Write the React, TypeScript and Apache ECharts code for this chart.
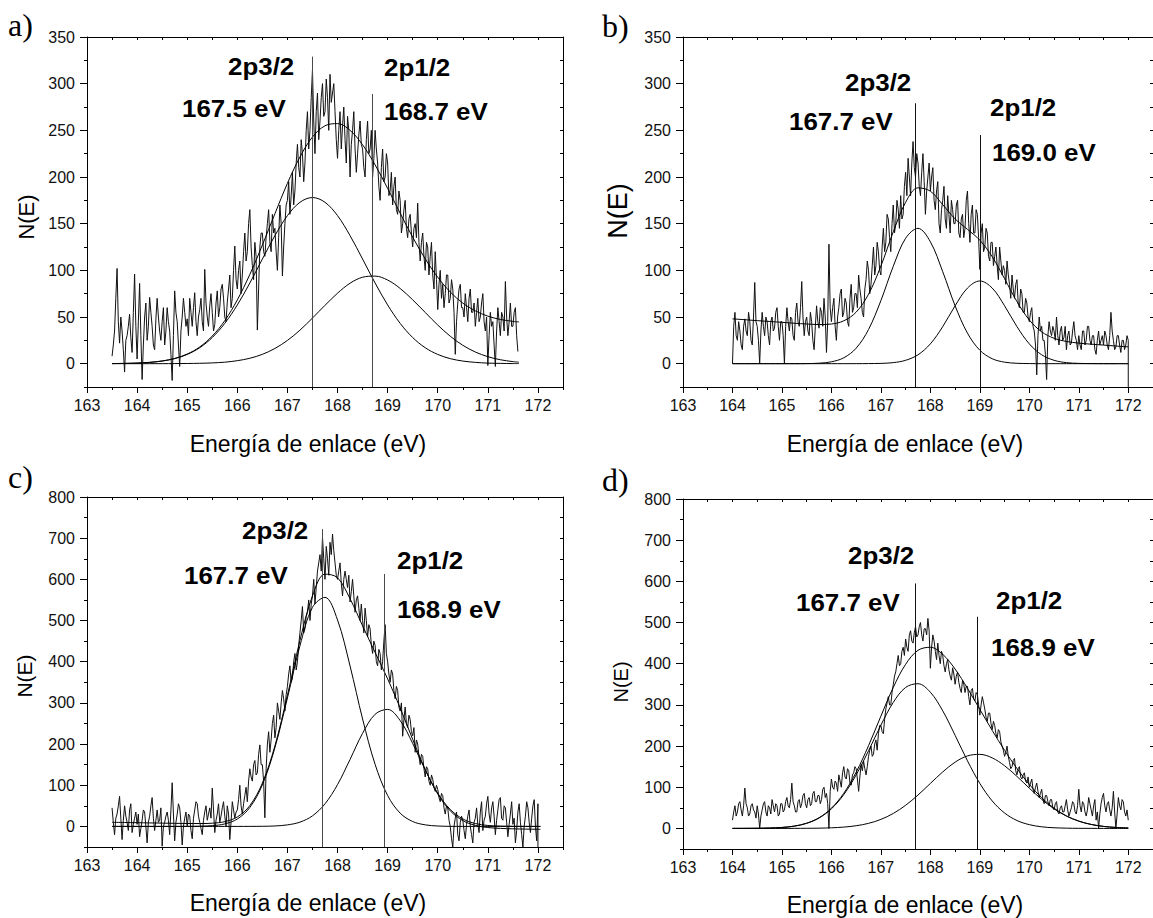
import React, { useEffect, useRef } from 'react';
import * as echarts from 'echarts';

// ---------- tick values ----------
const X_MAJOR = [163, 164, 165, 166, 167, 168, 169, 170, 171, 172];
const X_MINOR = [163.5, 164.5, 165.5, 166.5, 167.5, 168.5, 169.5, 170.5, 171.5, 172.5];
const Y_MAJOR_AB = [0, 50, 100, 150, 200, 250, 300, 350];
const Y_MINOR_AB = [-25, 25, 75, 125, 175, 225, 275, 325];
const Y_MAJOR_CD = [0, 100, 200, 300, 400, 500, 600, 700, 800];
const Y_MINOR_CD = [-50, 50, 150, 250, 350, 450, 550, 650, 750];

const DATA_STEP = 0.025;
const FIT_STEP = 0.25;

// ---------- panel a ----------
const A_DATA_START = 163.5;
const A_DATA = [
  8, 20, 35, 70, 102, 45, 22, 50, 35, 15, -9, 25, 30, 40, 53, 28, 12, 55, 96, 40,
  5, 45, 86, 30, -17, 20, 50, 65, 25, 40, 71, 55, 40, 20, 15, 48, 70, 50, 35, 25,
  45, 60, 20, 35, 60, 45, 35, 10, -18, 30, 78, 55, 45, 20, -3, 35, 50, 70, 55, 40,
  48, 30, 70, 55, 40, 60, 76, 45, 30, 50, 58, 70, 45, 35, 101, 65, 50, 40, 62, 75,
  55, 35, 42, 65, 78, 50, 60, 80, 85, 70, 50, 45, 66, 80, 95, 60, 70, 100, 126, 90,
  80, 100, 110, 75, 95, 120, 140, 110, 120, 150, 165, 125, 105, 90, 130, 115, 36, 80, 125, 140,
  140, 120, 115, 135, 150, 165, 130, 120, 160, 140, 145, 120, 100, 135, 170, 150, 94, 125, 150, 170,
  175, 195, 160, 180, 205, 170, 185, 215, 235, 210, 200, 240, 225, 195, 215, 250, 270, 230, 250, 285,
  315, 260, 225, 270, 290, 240, 260, 285, 300, 265, 270, 305, 285, 250, 310, 280, 290, 300, 270, 240,
  220, 250, 270, 230, 255, 275, 240, 215, 265, 250, 200, 235, 250, 270, 230, 205, 225, 245, 260, 235,
  230, 210, 200, 240, 260, 225, 230, 250, 200, 220, 250, 230, 215, 190, 175, 210, 230, 195, 200, 225,
  215, 180, 185, 205, 170, 190, 200, 165, 160, 185, 175, 140, 150, 165, 175, 145, 135, 155, 160, 140,
  125, 145, 150, 135, 172, 130, 110, 130, 140, 115, 100, 130, 125, 95, 115, 130, 95, 80, 120, 90,
  58, 85, 100, 70, 85, 60, 75, 95, 95, 65, 70, 90, 80, 55, 10, 45, 65, 80, 85, 60,
  60, 50, 75, 60, 45, 70, 80, 55, 55, 65, 40, 55, 70, 45, 50, 65, 75, 45, 35, 50,
  -2, 30, 55, 40, 45, 20, -3, 35, 60, 45, 30, 55, 50, 35, 88, 50, 30, 45, 65, 40,
  40, 55, 60, 30, 13,
];
const A_FIT_START = 163.5;
const A_FIT_LAST_X = 171.62;
const A_ENV = [0.1, 0.3, 0.6, 1.4, 2.9, 5.6, 10.3, 17.9, 29.6, 46.1, 68.3, 95.6, 127.1, 160.6, 193.2, 221.4, 242.9, 254.9, 257.2, 250.0, 234.5, 213.0, 187.8, 161.2, 135.5, 112.4, 92.6, 76.8, 64.9, 56.6, 50.9, 47.4, 45.3, 44.7];
const A_C1 = [0.1, 0.3, 0.6, 1.4, 2.8, 5.4, 9.9, 17.1, 28.0, 43.2, 62.9, 86.4, 112.1, 137.2, 158.6, 172.9, 178.0, 172.9, 158.6, 137.2, 112.1, 86.4, 62.9, 43.2, 28.0, 17.1, 9.9, 5.4, 2.8, 1.4, 0.6, 0.3, 0.1, 0.1];
const A_C2 = [0, 0, 0, 0, 0, 0.1, 0.2, 0.4, 0.8, 1.6, 3.2, 5.8, 10.0, 16.3, 24.9, 35.9, 48.9, 62.5, 75.5, 86.2, 92.6, 93.8, 89.6, 80.6, 68.4, 54.9, 41.4, 29.4, 19.7, 12.5, 7.5, 4.2, 2.2, 1.6];
const A_PEAKS = [167.5, 168.7];
const A_PEAK_TOPS = [329, 289];

// ---------- panel b ----------
const B_DATA_START = 164.0;
const B_DATA = [
  0, 40, 55, 30, 25, 45, 35, 20, 15, 40, 48, 35, 30, 55, 45, 25, 20, 50, 87, 45,
  40, 25, 0, 35, 55, 40, 30, 50, 45, 30, 20, 45, 50, 35, 38, 55, 60, 40, 25, 45,
  45, 30, 0, 40, 60, 45, 35, 50, 48, 30, 25, 55, 65, 45, 40, 60, 88, 50, 30, 45,
  50, 35, 30, 55, 45, 25, 15, 40, 62, 45, 38, 60, 55, 40, 70, 50, 12, 45, 128, 60,
  45, 60, 70, 40, 25, 50, 60, 75, 80, 50, 55, 70, 65, 45, 40, 70, 85, 55, 60, 75,
  75, 60, 95, 80, 70, 55, 50, 80, 90, 110, 100, 75, 85, 105, 125, 95, 105, 130, 120, 100,
  95, 125, 145, 120, 130, 160, 155, 135, 120, 150, 170, 140, 150, 175, 165, 145, 180, 155, 160, 190,
  205, 180, 220, 200, 180, 215, 238, 210, 200, 225, 215, 190, 180, 205, 225, 195, 160, 185, 200, 215,
  185, 200, 210, 175, 165, 185, 195, 150, 140, 165, 175, 190, 155, 145, 180, 160, 140, 175, 165, 150,
  150, 170, 175, 140, 135, 155, 160, 135, 145, 175, 185, 150, 130, 160, 170, 140, 140, 165, 160, 135,
  101, 140, 150, 120, 125, 145, 140, 115, 110, 130, 130, 105, 115, 125, 105, 90, 125, 110, 95, 105,
  100, 85, 110, 95, 85, 70, 95, 80, 70, 85, 90, 65, 60, 80, 75, 55, 55, 70, 65, 50,
  45, 55, 60, 40, 35, 20, -12, 30, 50, 35, 40, 25, 25, 10, -17, 30, 45, 35, 30, 40,
  35, 25, 50, 30, 20, 35, 40, 25, 28, 40, 15, 30, 35, 20, 22, 35, 45, 30, 25, 15,
  30, 20, 15, 35, 35, 20, 25, 40, 40, 25, 20, 30, 30, 15, 10, 25, 35, 20, 25, 30,
  20, 35, 30, 20, 15, 30, 55, 35, 25, 15, 18, 30, 30, 20, 12, 25, 25, 15, 20, 30,
  25,
];
const B_DATA_TAIL = [[172.0, -40]];
const B_FIT_START = 164.0;
const B_ENV = [48.0, 47.1, 46.1, 45.2, 44.3, 43.3, 42.5, 41.9, 42.5, 45.9, 55.2, 74.4, 104.6, 141.2, 172.9, 188.4, 184.8, 170.3, 155.1, 143.9, 132.3, 114.6, 91.0, 66.5, 46.8, 34.1, 27.2, 23.8, 22.0, 20.9, 19.9, 18.9, 18.0];
const B_C1 = [0, 0, 0, 0, 0, 0, 0.1, 0.5, 2.0, 6.3, 16.6, 36.6, 67.6, 104.3, 134.4, 145.0, 130.6, 98.5, 62.0, 32.7, 14.4, 5.3, 1.6, 0.4, 0.1, 0, 0, 0, 0, 0, 0, 0, 0];
const B_C2 = [0, 0, 0, 0, 0, 0, 0, 0, 0, 0, 0, 0.1, 0.3, 1.1, 3.6, 9.5, 21.2, 39.7, 62.0, 81.0, 88.6, 81.0, 62.0, 39.7, 21.2, 9.5, 3.6, 1.1, 0.3, 0.1, 0, 0, 0];
const B_PEAKS = [167.7, 169.0];
const B_PEAK_TOPS = [279, 245];

// ---------- panel c ----------
const C_DATA_START = 163.5;
const C_DATA = [
  45, 10, -20, 20, 30, 50, 73, 20, -32, 15, 50, 25, 10, -10, 40, 55, -15, 5, 20, 35,
  5, 30, -25, -5, 15, 40, 35, 0, -40, 10, 25, 50, 70, 20, -10, 15, 40, 10, 15, 45,
  -48, 0, 10, 25, 35, 15, -20, 40, 106, 30, -35, 10, 30, 55, 45, 10, -45, 0, 20, 35,
  0, 30, 25, -10, -30, 20, 40, 60, 55, 25, 10, -5, -20, 15, 35, 50, 15, 30, 45, 20,
  93, 40, -15, 15, 30, 55, 10, 25, 45, 60, 25, 0, 50, 30, -32, 10, 60, 40, 20, 35,
  40, 65, 100, 50, 30, 55, 75, 95, 60, 110, 140, 120, 110, 150, 160, 125, 130, 175, 198, 150,
  150, 110, 21, 140, 200, 230, 180, 210, 250, 270, 215, 240, 300, 280, 260, 300, 330, 310, 280, 320,
  340, 370, 390, 350, 360, 400, 420, 380, 400, 440, 470, 500, 534, 470, 480, 510, 520, 550, 500, 540,
  560, 600, 540, 580, 620, 640, 660, 620, 703, 650, 600, 680, 650, 610, 690, 660, 710, 670, 640, 610,
  600, 620, 640, 590, 560, 600, 620, 600, 580, 610, 545, 570, 600, 560, 520, 550, 560, 530, 500, 540,
  500, 470, 530, 500, 460, 490, 480, 440, 420, 450, 440, 400, 390, 430, 420, 380, 400, 450, 490, 420,
  400, 370, 350, 380, 370, 330, 310, 340, 330, 290, 280, 300, 219, 260, 290, 250, 240, 270, 260, 230,
  220, 240, 180, 210, 200, 170, 150, 175, 170, 140, 120, 145, 140, 110, 100, 125, 115, 95, 85, 100,
  90, 70, 60, 80, 75, 45, 30, 50, 45, 15, 0, -30, -50, 0, 20, 35, -20, -35, 10, 25,
  15, -10, -30, 5, 25, 40, 0, -20, -40, 10, 20, 45, 5, -15, 35, 60, -10, 15, 25, 55,
  73, 30, 10, 45, 60, 25, -20, 15, 40, 65, 70, 20, 15, 50, 45, 10, -25, 5, 30, 60,
  5, 20, -40, -10, 35, 55, 10, -20, -50, 0, 25, 60, 45, 10, -15, 20, 50, 65, 0, -35,
  55,
];
const C_DATA_TAIL = [[172.0, -60]];
const C_FIT_START = 163.5;
const C_FIT_LAST_X = 172.05;
const C_ENV = [10, 9.5, 9, 8.5, 8, 7.5, 7.1, 7.0, 7.8, 11.6, 23.0, 50.5, 105.2, 195.6, 318.5, 451.6, 559.8, 612.7, 603.9, 552.8, 487.1, 422.5, 358.2, 287.8, 211.5, 138.3, 78.7, 37.9, 14.2, 2.5, -2.7, -4.8, -5.9, -6.5, -7.0, -7.1];
const C_C1 = [0, 0, 0, 0, 0, 0, 0.1, 0.5, 1.8, 6.1, 18.0, 45.9, 100.9, 191.0, 311.8, 438.7, 532.1, 556.3, 501.4, 389.6, 261.0, 150.7, 75.0, 32.2, 11.9, 3.8, 1.0, 0.2, 0, 0, 0, 0, 0, 0, 0, 0];
const C_C2 = [0, 0, 0, 0, 0, 0, 0, 0, 0, 0, 0, 0.1, 0.3, 1.1, 3.7, 10.4, 25.7, 54.9, 101.5, 162.7, 226.1, 272.3, 284.2, 257.1, 201.6, 137.0, 80.7, 41.2, 18.2, 7.0, 2.3, 0.7, 0.2, 0, 0, 0];
const C_PEAKS = [167.7, 168.94];
const C_PEAK_TOPS = [722, 613];

// ---------- panel d ----------
const D_DATA_START = 164.0;
const D_DATA = [
  20, 40, 55, 30, 40, 60, 65, 45, 30, 55, 98, 60, 50, 30, 35, 55, 60, 45, 40, 25,
  55, 35, 0, 30, 45, 60, 65, 40, 30, 55, 50, 35, 70, 55, 40, 60, 55, 30, 35, 60,
  60, 40, 45, 65, 75, 55, 50, 70, 110, 65, 55, 40, 40, 65, 70, 50, 60, 80, 85, 60,
  50, 70, 75, 55, 60, 85, 90, 65, 65, 80, 80, 60, 70, 95, 100, 75, 85, 60, 0, 90,
  120, 100, 95, 115, 110, 90, 130, 115, 100, 135, 150, 125, 120, 145, 140, 110, 105, 130, 135, 150,
  145, 120, 90, 125, 155, 140, 163, 145, 130, 150, 175, 190, 200, 175, 180, 205, 215, 190, 230, 250,
  250, 235, 230, 265, 290, 305, 320, 300, 300, 330, 349, 370, 380, 400, 420, 395, 400, 430, 440, 420,
  460, 440, 430, 470, 480, 455, 450, 475, 490, 465, 470, 490, 500, 470, 455, 485, 485, 470, 510, 480,
  389, 440, 470, 455, 430, 410, 450, 420, 400, 430, 420, 395, 380, 400, 410, 385, 370, 360, 390, 375,
  350, 370, 380, 355, 340, 330, 360, 350, 330, 345, 345, 320, 300, 335, 340, 315, 310, 330, 325, 300,
  275, 300, 320, 305, 290, 270, 260, 280, 280, 255, 240, 260, 250, 230, 220, 240, 235, 210, 200, 190,
  175, 185, 200, 175, 160, 145, 150, 165, 170, 140, 130, 145, 150, 125, 120, 130, 135, 115, 110, 125,
  100, 110, 120, 95, 85, 100, 110, 90, 75, 85, 95, 70, 60, 80, 80, 65, 55, 70, 70, 50,
  45, 60, 65, 40, 35, 50, 55, 40, 40, 55, 70, 45, 30, 40, 50, 65, 60, 40, 35, 55,
  95, 55, 40, 65, 60, 40, 30, 45, 75, 60, 45, 30, 55, 70, 20, 40, 0, 35, 60, 75,
  85, 55, 40, 60, 65, 45, 30, 50, 90, 40, 0, 35, 75, 55, 45, 70, 65, 40, 30, 45,
  20,
];
const D_FIT_START = 164.0;
const D_ENV = [0.0, 0.1, 0.3, 0.9, 2.3, 5.6, 12.6, 25.9, 49.1, 85.4, 136.5, 200.8, 272.7, 342.3, 398.6, 432.5, 439.9, 422.7, 387.0, 340.2, 289.1, 238.0, 189.6, 145.5, 106.8, 74.5, 49.1, 30.5, 17.8, 9.7, 4.9, 2.3, 1.0];
const D_C1 = [0.0, 0.1, 0.3, 0.9, 2.3, 5.5, 12.4, 25.3, 47.6, 82.2, 130.0, 188.5, 250.8, 306.0, 342.4, 351.4, 330.7, 285.5, 226.1, 164.1, 109.3, 66.7, 37.4, 19.2, 9.1, 3.9, 1.6, 0.6, 0.2, 0.1, 0, 0, 0];
const D_C2 = [0, 0, 0, 0, 0, 0.1, 0.3, 0.6, 1.5, 3.2, 6.5, 12.3, 21.9, 36.3, 56.2, 81.1, 109.2, 137.2, 160.9, 176.1, 179.8, 171.3, 152.2, 126.3, 97.7, 70.6, 47.6, 29.9, 17.6, 9.6, 4.9, 2.3, 1.0];
const D_PEAKS = [167.7, 168.95];
const D_PEAK_TOPS = [595, 514];

// ---------- texts ----------
const PANEL_LETTERS = ['a)', 'b)', 'c)', 'd)'];
const X_TITLE = 'Energía de enlace (eV)';
const Y_TITLE = 'N(E)';
const A_LABELS = ['2p3/2', '167.5 eV', '2p1/2', '168.7 eV'];
const B_LABELS = ['2p3/2', '167.7 eV', '2p1/2', '169.0 eV'];
const C_LABELS = ['2p3/2', '167.7 eV', '2p1/2', '168.9 eV'];
const D_LABELS = ['2p3/2', '167.7 eV', '2p1/2', '168.9 eV'];

const pairs = (start: number, step: number, vals: number[], lastX?: number) =>
  vals.map((v, i) => [
    lastX !== undefined && i === vals.length - 1 ? lastX : Math.round((start + i * step) * 1000) / 1000,
    v,
  ]);

const FONT = '"Liberation Sans", Arial, Helvetica, sans-serif';
const SERIF = '"Liberation Serif", "Times New Roman", serif';

export default function App() {
  const ref = useRef<HTMLDivElement>(null);
  useEffect(() => {
    if (!ref.current) return;
    const chart = echarts.init(ref.current, undefined, { renderer: 'svg' });

    const panels = [
      {
        grid: { left: 87, top: 37, width: 476, height: 350 },
        yMin: -25, yMax: 350, yMajor: Y_MAJOR_AB, yMinor: Y_MINOR_AB,
        data: pairs(A_DATA_START, DATA_STEP, A_DATA),
        env: pairs(A_FIT_START, FIT_STEP, A_ENV, A_FIT_LAST_X),
        c1: pairs(A_FIT_START, FIT_STEP, A_C1, A_FIT_LAST_X),
        c2: pairs(A_FIT_START, FIT_STEP, A_C2, A_FIT_LAST_X),
        peaks: A_PEAKS, tops: A_PEAK_TOPS, vcolor: '#4a4a4a',
      },
      {
        grid: { left: 683, top: 37, width: 476, height: 350 },
        yMin: -25, yMax: 350, yMajor: Y_MAJOR_AB, yMinor: Y_MINOR_AB,
        data: pairs(B_DATA_START, DATA_STEP, B_DATA).concat(B_DATA_TAIL),
        env: pairs(B_FIT_START, FIT_STEP, B_ENV),
        c1: pairs(B_FIT_START, FIT_STEP, B_C1),
        c2: pairs(B_FIT_START, FIT_STEP, B_C2),
        peaks: B_PEAKS, tops: B_PEAK_TOPS, vcolor: '#111',
      },
      {
        grid: { left: 87, top: 497, width: 476, height: 350 },
        yMin: -50, yMax: 800, yMajor: Y_MAJOR_CD, yMinor: Y_MINOR_CD,
        data: pairs(C_DATA_START, DATA_STEP, C_DATA).concat(C_DATA_TAIL),
        env: pairs(C_FIT_START, FIT_STEP, C_ENV, C_FIT_LAST_X),
        c1: pairs(C_FIT_START, FIT_STEP, C_C1, C_FIT_LAST_X),
        c2: pairs(C_FIT_START, FIT_STEP, C_C2, C_FIT_LAST_X),
        peaks: C_PEAKS, tops: C_PEAK_TOPS, vcolor: '#4a4a4a',
      },
      {
        grid: { left: 683, top: 499, width: 476, height: 350 },
        yMin: -50, yMax: 800, yMajor: Y_MAJOR_CD, yMinor: Y_MINOR_CD,
        data: pairs(D_DATA_START, DATA_STEP, D_DATA),
        env: pairs(D_FIT_START, FIT_STEP, D_ENV),
        c1: pairs(D_FIT_START, FIT_STEP, D_C1),
        c2: pairs(D_FIT_START, FIT_STEP, D_C2),
        peaks: D_PEAKS, tops: D_PEAK_TOPS, vcolor: '#111',
      },
    ];

    const grids: any[] = [];
    const xAxes: any[] = [];
    const yAxes: any[] = [];
    const series: any[] = [];
    const black = { color: '#000', width: 1 };
    const labelStyle = { fontSize: 16, color: '#111', fontFamily: FONT };

    panels.forEach((p, k) => {
      grids.push({ ...p.grid, containLabel: false });
      const xBase = { gridIndex: k, type: 'value', min: 163, max: 172.5, splitLine: { show: false } };
      xAxes.push({
        ...xBase, position: 'bottom', interval: 1,
        axisLine: { show: true, onZero: false, lineStyle: black },
        axisTick: { show: true, inside: false, length: 6, customValues: X_MAJOR, lineStyle: black },
        axisLabel: { show: true, customValues: X_MAJOR, margin: 10, ...labelStyle },
      });
      xAxes.push({
        ...xBase, position: 'bottom',
        axisLine: { show: false, onZero: false },
        axisTick: { show: true, inside: false, length: 3, customValues: X_MINOR, lineStyle: black },
        axisLabel: { show: false },
      });
      xAxes.push({
        ...xBase, position: 'top',
        axisLine: { show: true, onZero: false, lineStyle: black },
        axisTick: { show: true, inside: true, length: 3, customValues: X_MAJOR.concat(X_MINOR), lineStyle: black },
        axisLabel: { show: false },
      });
      const yBase = { gridIndex: k, type: 'value', min: p.yMin, max: p.yMax, splitLine: { show: false } };
      yAxes.push({
        ...yBase, position: 'left',
        axisLine: { show: true, onZero: false, lineStyle: black },
        axisTick: { show: true, inside: false, length: 7, customValues: p.yMajor, lineStyle: black },
        axisLabel: { show: true, customValues: p.yMajor, margin: 12, ...labelStyle },
      });
      yAxes.push({
        ...yBase, position: 'left',
        axisLine: { show: false, onZero: false },
        axisTick: { show: true, inside: false, length: 3, customValues: p.yMinor, lineStyle: black },
        axisLabel: { show: false },
      });
      yAxes.push({
        ...yBase, position: 'right',
        axisLine: { show: true, onZero: false, lineStyle: black },
        axisTick: { show: true, inside: true, length: 3, customValues: p.yMajor.concat(p.yMinor), lineStyle: black },
        axisLabel: { show: false },
      });

      const common = {
        type: 'line', xAxisIndex: 3 * k, yAxisIndex: 3 * k, showSymbol: false, symbol: 'none',
        silent: true, clip: true, animation: false,
      };
      series.push({ ...common, data: p.data, lineStyle: { color: '#111', width: 1 } });
      series.push({ ...common, data: p.env, smooth: 0.35, lineStyle: { color: '#000', width: 1 } });
      series.push({ ...common, data: p.c2, smooth: 0.35, lineStyle: { color: '#000', width: 1 } });
      series.push({
        ...common, data: p.c1, smooth: 0.35, lineStyle: { color: '#000', width: 1 },
        markLine: {
          silent: true, symbol: ['none', 'none'], animation: false,
          label: { show: false },
          lineStyle: { color: p.vcolor, width: 1, type: 'solid' },
          data: p.peaks.map((x, i) => [{ coord: [x, p.yMin] }, { coord: [x, p.tops[i]] }]),
        },
      });
    });

    const txt = (text: string, x: number, y: number, font: string, extra: any = {}) => ({
      type: 'text', x, y, silent: true, ...extra,
      style: {
        text, font, fill: '#000',
        align: extra.align || 'left', textAlign: extra.align || 'left',
        verticalAlign: 'middle', textVerticalAlign: 'middle',
      },
    });
    const bold = `bold 24px ${FONT}`;
    const ann = (labels: string[], pos: number[][]) =>
      labels.map((l, i) => txt(l, pos[i][0], pos[i][1], bold, { scaleX: 1.08 }));

    const graphics: any[] = [
      txt(PANEL_LETTERS[0], 8, 25, `32px ${SERIF}`),
      txt(PANEL_LETTERS[1], 602, 26, `32px ${SERIF}`),
      txt(PANEL_LETTERS[2], 8, 477, `32px ${SERIF}`),
      txt(PANEL_LETTERS[3], 602, 480, `32px ${SERIF}`),
      txt(Y_TITLE, 26, 217, `22px ${FONT}`, { rotation: Math.PI / 2, align: 'center' }),
      txt(Y_TITLE, 618, 211, `27px ${FONT}`, { rotation: Math.PI / 2, align: 'center' }),
      txt(Y_TITLE, 24, 676, `21px ${FONT}`, { rotation: Math.PI / 2, align: 'center' }),
      txt(Y_TITLE, 621, 682, `20px ${FONT}`, { rotation: Math.PI / 2, align: 'center' }),
      txt(X_TITLE, 308, 444, `23px ${FONT}`, { align: 'center' }),
      txt(X_TITLE, 905, 444, `23px ${FONT}`, { align: 'center' }),
      txt(X_TITLE, 308, 903, `23px ${FONT}`, { align: 'center' }),
      txt(X_TITLE, 905, 905, `23px ${FONT}`, { align: 'center' }),
      ...ann(A_LABELS, [[228, 66], [182, 108], [384, 67], [384, 111]]),
      ...ann(B_LABELS, [[845, 82], [789, 121], [990, 107], [992, 152]]),
      ...ann(C_LABELS, [[242, 530], [184, 575], [397, 560], [397, 609]]),
      ...ann(D_LABELS, [[848, 555], [796, 602], [996, 600], [991, 647]]),
    ];

    chart.setOption({
      animation: false,
      backgroundColor: '#fff',
      grid: grids,
      xAxis: xAxes,
      yAxis: yAxes,
      series,
      graphic: { elements: graphics },
    });
    return () => chart.dispose();
  }, []);

  return (
    <div
      ref={ref}
      style={{ position: 'fixed', left: 0, top: 0, width: 1153, height: 918, background: '#fff' }}
    />
  );
}
